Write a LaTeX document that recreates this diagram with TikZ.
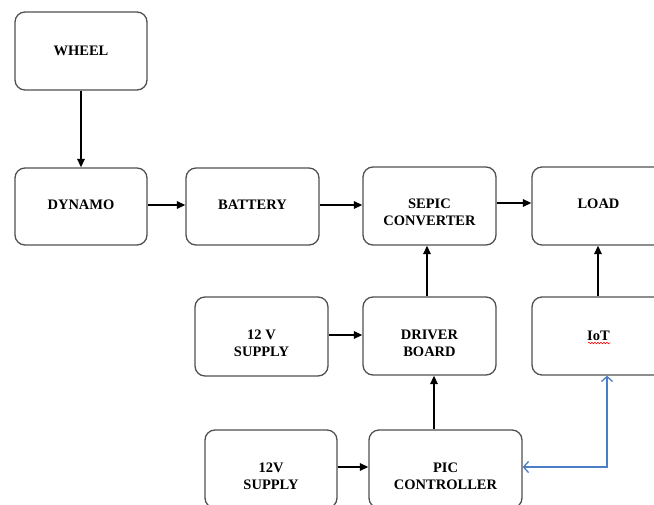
\documentclass[tikz,border=0pt]{standalone}
\usepackage{fontspec}
\setmainfont{Liberation Serif}
\usetikzlibrary{arrows.meta,decorations.pathmorphing}
\definecolor{boxline}{HTML}{505050}
\definecolor{iotblue}{HTML}{4A7FC8}
\tikzset{
  lbl/.style={align=center, font=\fontsize{14.5}{17}\selectfont\bfseries, inner sep=0pt},
  blk/.style={draw=boxline, line width=1.3pt, rounded corners=10pt, inner sep=0pt},
  txt/.style 2 args={label={[lbl, yshift=#1]center:#2}},
  arr/.style={line width=1.4pt, -{Triangle[length=8.5pt,width=7.5pt]}},
  barr/.style={draw=iotblue, line width=1.3pt, {Straight Barb[length=5pt,width=11pt]}-{Straight Barb[length=5pt,width=11pt]}}
}
\begin{document}
\begin{tikzpicture}[x=1pt,y=1pt]
\useasboundingbox (0,0) rectangle (654,-504);
\node[blk, minimum width=132pt, minimum height=78pt, txt={0pt}{WHEEL}] (wheel) at (81,-51) {};
\node[blk, minimum width=132pt, minimum height=77pt, txt={2pt}{DYNAMO}] (dynamo) at (81,-206.5) {};
\node[blk, minimum width=133pt, minimum height=77pt, txt={2pt}{BATTERY}] (battery) at (252.5,-206.5) {};
\node[blk, minimum width=133pt, minimum height=78pt, txt={-6pt}{SEPIC\\CONVERTER}] (sepic) at (429.5,-206) {};
\node[blk, minimum width=133pt, minimum height=78pt, txt={2pt}{LOAD}] (load) at (598.5,-206) {};
\node[blk, minimum width=133pt, minimum height=79pt, txt={-7pt}{12 V\\SUPPLY}] (sup1) at (261.5,-336.5) {};
\node[blk, minimum width=133pt, minimum height=78pt, txt={-7pt}{DRIVER\\BOARD}] (driver) at (429.5,-336) {};
\node[blk, minimum width=133pt, minimum height=78pt, txt={0pt}{IoT}] (iot) at (598.5,-336) {};
\node[blk, minimum width=132pt, minimum height=78pt, txt={-7pt}{12V\\SUPPLY}] (sup2) at (271,-469) {};
\node[blk, minimum width=153pt, minimum height=78pt, txt={-7pt}{PIC\\CONTROLLER}] (pic) at (445.5,-469) {};
\coordinate (wavyA) at (588,-343);
\coordinate (wavyB) at (610,-343);
\draw[red, line width=0.6pt, decorate, decoration={snake, amplitude=0.8pt, segment length=3pt}] (wavyA) -- (wavyB);
\draw[arr] (wheel) -- (dynamo);
\draw[arr] ([yshift=1.5pt]dynamo.east) -- ([yshift=1.5pt]dynamo.east -| battery.west);
\draw[arr] ([yshift=1.5pt]battery.east) -- ([yshift=1.5pt]battery.east -| sepic.west);
\draw[arr] ([yshift=3pt]sepic.east) -- ([yshift=3pt]sepic.east -| load.west);
\draw[arr] ([xshift=-2.5pt]driver.north) -- ([xshift=-2.5pt]sepic.south);
\draw[arr] ([xshift=-0.5pt]iot.north) -- ([xshift=-0.5pt]load.south);
\draw[arr] ([yshift=1.5pt]sup1.east) -- ([yshift=1.5pt]sup1.east -| driver.west);
\draw[arr] ([xshift=4.5pt]driver.south |- pic.north) -- ([xshift=4.5pt]driver.south);
\draw[arr] ([yshift=2pt]sup2.east) -- ([yshift=2pt]sup2.east -| pic.west);
\draw[barr] ([yshift=2pt]pic.east) -| ([xshift=8.5pt]iot.south);
\end{tikzpicture}
\end{document}
